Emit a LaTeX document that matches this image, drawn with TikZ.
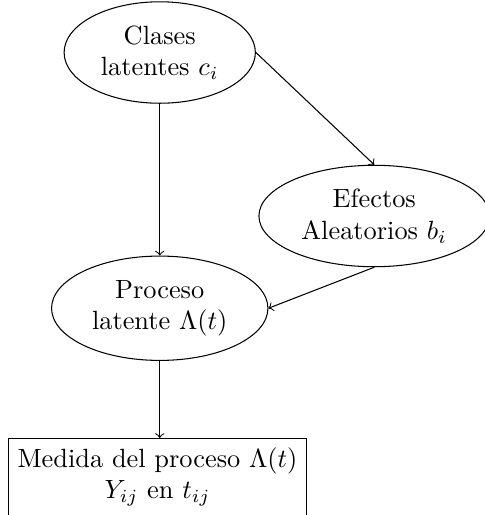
\documentclass[tikz,border=0pt]{standalone}
\usepackage{amsmath}
\usepackage{tikz}
\usetikzlibrary{shapes.geometric,positioning}

\begin{document}
\begin{tikzpicture}[
	elip/.style={ellipse,draw,align=center},
	caja/.style={rectangle,draw,align=center,anchor=north,text depth=9pt}]
	\useasboundingbox (0,0) rectangle (6.467,-6.867);
	\node[elip] (clases) at (2.13,-0.70) {Clases\\latentes $c_i$};
	\node[elip] (efectos) at (4.99,-2.88) {Efectos\\Aleatorios $b_i$};
	\node[elip] (proceso) at (2.13,-4.11) {Proceso\\latente $\Lambda(t)$};
	\node[caja] (medida) at (2.10,-5.84) {Medida del proceso $\Lambda(t)$\\$Y_{ij}$ en $t_{ij}$};
	\draw[->] (clases) -- (proceso);
	\draw[->] (clases.east) -- (efectos.north);
	\draw[->] (efectos.south) -- (proceso.east);
	\draw[->] (proceso.south) -- (proceso.south |- medida.north);
\end{tikzpicture}
\end{document}
